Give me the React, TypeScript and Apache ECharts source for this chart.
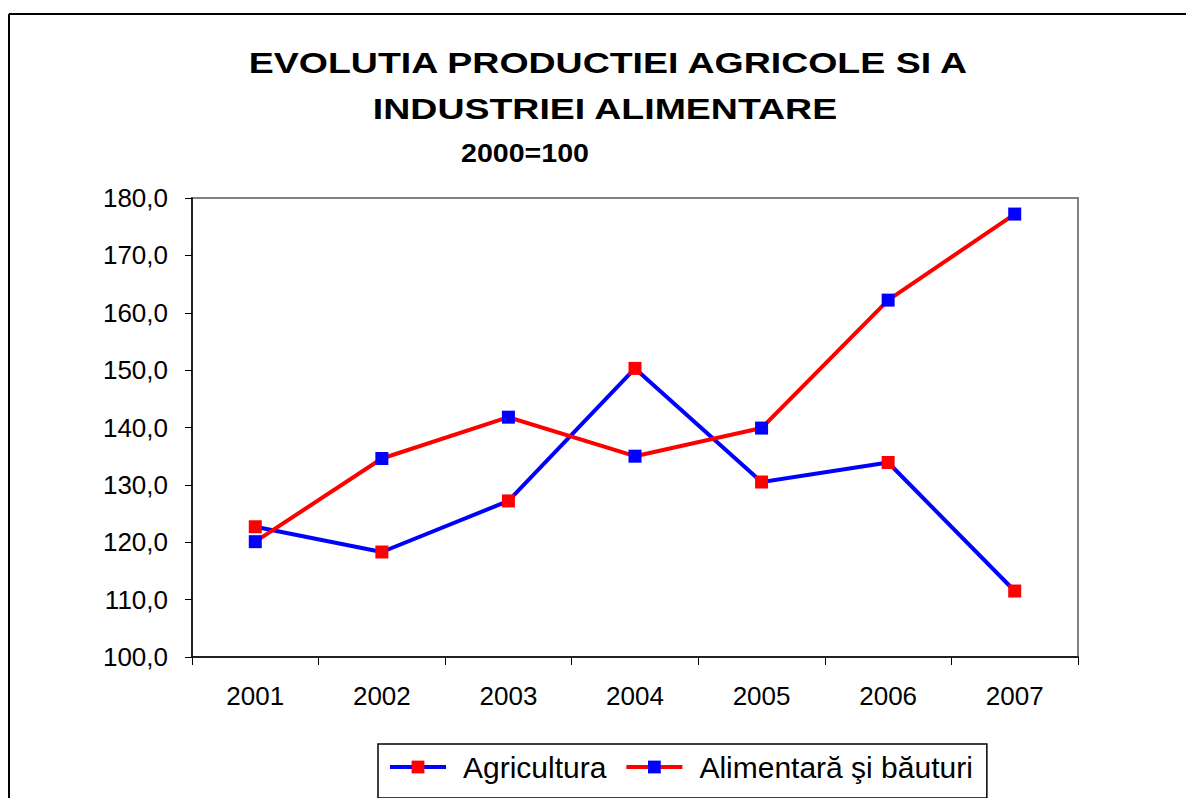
import React, { useEffect, useRef } from "react";
import * as echarts from "echarts";

const years = ["2001", "2002", "2003", "2004", "2005", "2006", "2007"];
const agricultura = [122.7, 118.3, 127.2, 150.3, 130.5, 133.9, 111.5];
const alimentara = [120.1, 134.6, 141.8, 135.0, 139.9, 162.2, 177.2];
const titleLines = ["EVOLUTIA PRODUCTIEI AGRICOLE SI A", "INDUSTRIEI ALIMENTARE"];
const subtitle = "2000=100";
const seriesNames = ["Agricultura", "Alimentară şi băuturi"];

const FONT = '"Liberation Sans", Arial, sans-serif';

export default function App() {
  const ref = useRef<HTMLDivElement>(null);
  useEffect(() => {
    const chart = echarts.init(ref.current!, null, { renderer: "svg" });
    chart.setOption({
      animation: false,
      backgroundColor: "#ffffff",
      grid: {
        left: 192,
        right: 108,
        top: 198,
        bottom: 141,
        show: true,
        borderColor: "#808080",
        borderWidth: 2,
        backgroundColor: "transparent",
      },
      graphic: [
        {
          type: "line",
          shape: { x1: 9, y1: 14, x2: 1186, y2: 14 },
          style: { stroke: "#000", lineWidth: 2 },
        },
        {
          type: "line",
          shape: { x1: 9, y1: 14, x2: 9, y2: 798 },
          style: { stroke: "#000", lineWidth: 2 },
        },
        {
          type: "text",
          x: 608,
          y: 62,
          scaleX: 1.25,
          style: {
            text: titleLines[0],
            font: `bold 30px ${FONT}`,
            fill: "#000",
            align: "center",
            verticalAlign: "middle",
          },
        },
        {
          type: "text",
          x: 605,
          y: 108,
          scaleX: 1.25,
          style: {
            text: titleLines[1],
            font: `bold 30px ${FONT}`,
            fill: "#000",
            align: "center",
            verticalAlign: "middle",
          },
        },
        {
          type: "text",
          x: 525,
          y: 153,
          scaleX: 1.1,
          style: {
            text: subtitle,
            font: `bold 26px ${FONT}`,
            fill: "#000",
            align: "center",
            verticalAlign: "middle",
          },
        },
      ],
      legend: {
        left: 378,
        top: 744,
        padding: [8, 14, 16, 10],
        itemWidth: 56,
        itemHeight: 16,
        itemGap: 18,
        borderColor: "#000",
        borderWidth: 1.5,
        lineStyle: { width: 4 },
        textStyle: {
          fontSize: 30,
          fontFamily: FONT,
          color: "#000",
          padding: [0, 0, 0, 12],
        },
        data: seriesNames,
      },
      xAxis: {
        type: "category",
        data: years,
        boundaryGap: true,
        axisLine: { lineStyle: { color: "#000", width: 1.5 } },
        axisTick: { show: true, length: 8, lineStyle: { color: "#000" } },
        axisLabel: { fontSize: 26, fontFamily: FONT, color: "#000", margin: 26 },
        splitLine: { show: false },
      },
      yAxis: {
        type: "value",
        min: 100,
        max: 180,
        interval: 10,
        axisLine: { show: true, lineStyle: { color: "#000", width: 1.5 } },
        axisTick: { show: true, length: 7, lineStyle: { color: "#000" } },
        axisLabel: {
          fontSize: 26,
          fontFamily: FONT,
          color: "#000",
          margin: 24,
          formatter: (v: number) => v.toFixed(1).replace(".", ","),
        },
        splitLine: { show: false },
      },
      series: [
        {
          name: seriesNames[0],
          type: "line",
          data: agricultura,
          symbol: "rect",
          symbolSize: 13,
          lineStyle: { color: "#0000ff", width: 4 },
          itemStyle: { color: "#ff0000" },
        },
        {
          name: seriesNames[1],
          type: "line",
          data: alimentara,
          symbol: "rect",
          symbolSize: 13,
          lineStyle: { color: "#ff0000", width: 4 },
          itemStyle: { color: "#0000ff" },
        },
      ],
    });
    return () => chart.dispose();
  }, []);
  return (
    <div
      ref={ref}
      style={{ position: "absolute", left: 0, top: 0, width: 1186, height: 798 }}
    />
  );
}
